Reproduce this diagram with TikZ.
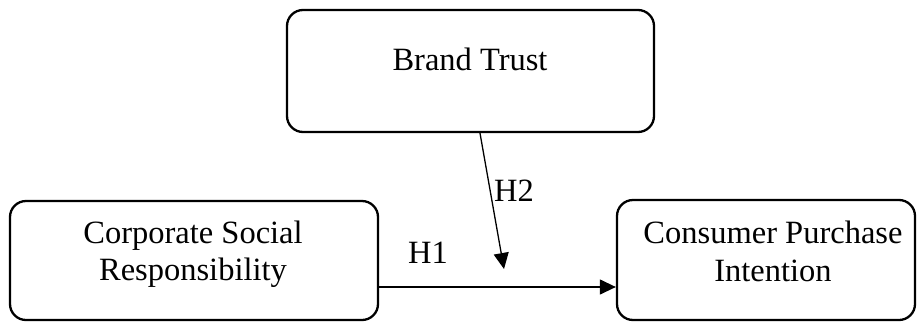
\documentclass[tikz,border=0pt]{standalone}
\usepackage{fontspec}
\setmainfont{Liberation Serif}
\usetikzlibrary{arrows.meta}
\begin{document}
\begin{tikzpicture}[x=1pt,y=-1pt,
  box/.style={draw, line width=2.3pt, rounded corners=16pt, inner sep=0pt},
  txt/.style={anchor=base, inner sep=0pt, font=\fontsize{32.5}{38}\selectfont},
  conn/.style={line width=1.3pt, -{Triangle[length=16pt,width=15pt]}}]
\useasboundingbox (0,0) rectangle (918,322);
\node[box, minimum width=367pt, minimum height=122pt] (bt) at (470.5,71) {};
\node[box, minimum width=368pt, minimum height=119pt] (csr) at (194,260.5) {};
\node[box, minimum width=298pt, minimum height=120pt] (cpi) at (766,260) {};
\node[txt] (btt) at (470,70) {Brand Trust};
\node[txt] (csr1) at (193,243) {Corporate Social};
\node[txt] (csr2) at (193,280) {Responsibility};
\node[txt] (cpi1) at (773,243) {Consumer Purchase};
\node[txt] (cpi2) at (773,281) {Intention};
\node[txt] (h1l) at (428,263) {H1};
\node[txt] (h2l) at (514,201) {H2};
\coordinate (h1) at (0,287);
\coordinate (h2s) at (480,0);
\coordinate (h2e) at (504,269);
\draw[conn] (h1 -| csr.east) -- (h1 -| cpi.west);
\draw[conn] (h2s |- bt.south) -- (h2e);
\end{tikzpicture}
\end{document}
